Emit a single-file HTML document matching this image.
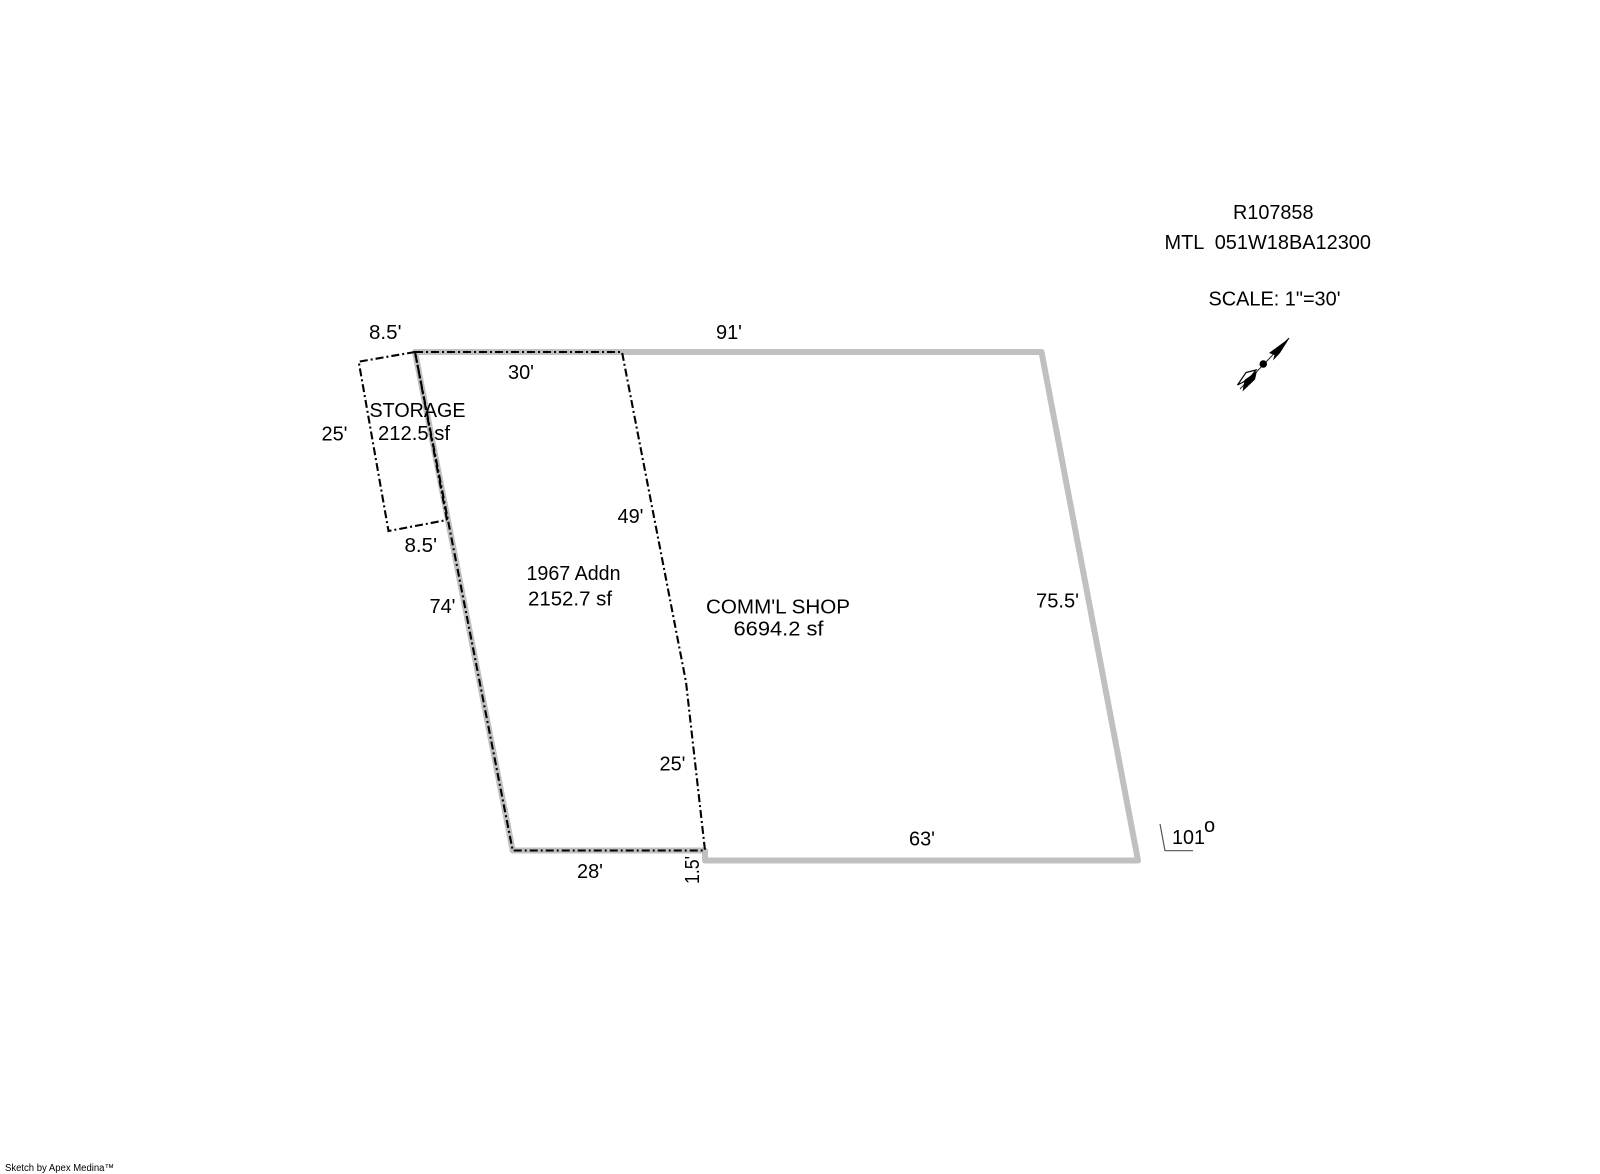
<!DOCTYPE html>
<html><head><meta charset="utf-8"><style>
html,body{margin:0;padding:0;background:#fff;width:1600px;height:1174px;overflow:hidden}
svg{display:block}
text{font-family:"Liberation Sans",Arial,sans-serif;font-size:20px;fill:#000}
</style></head><body>
<svg width="1600" height="1174" viewBox="0 0 1600 1174" xmlns="http://www.w3.org/2000/svg">
<rect width="1600" height="1174" fill="#fff"/>
<polygon points="415,352 1041.5,352 1138,860.5 705,860.5 705,850.5 512.7,850.5" fill="none" stroke="#c0c0c0" stroke-width="6" stroke-linejoin="round"/>
<g fill="none" stroke="#000" stroke-width="2.1" stroke-dasharray="8 3 2 3">
<polygon points="415,352 622,352 686,682 705,850.5 512.7,850.5"/>
<polyline points="415,352 358.7,361.7 388.5,531 447,520"/>
<line x1="447" y1="520" x2="415" y2="352"/>
</g>
<polyline points="1160,824 1165,850.7 1193,850.7" fill="none" stroke="#555" stroke-width="1.2"/>
<line x1="1289" y1="338" x2="1240" y2="389" stroke="#222" stroke-width="1"/>
<polygon points="1289.5,338 1269,353 1274.5,355 1273,360.5 1280,353" fill="#000"/>
<circle cx="1263.3" cy="364" r="3.8" fill="#000"/>
<polygon points="1256,370 1246,372.5 1237.5,385 1249,379" fill="#fff" stroke="#000" stroke-width="1.2"/>
<polygon points="1257,371 1244.5,380 1242.5,391.5 1255,379.5" fill="#000"/>
<text x="1233" y="219" textLength="80.5" lengthAdjust="spacingAndGlyphs">R107858</text>
<text x="1164.5" y="249" xml:space="preserve" textLength="206.5" lengthAdjust="spacingAndGlyphs">MTL  051W18BA12300</text>
<text x="1208.5" y="305.5" textLength="132" lengthAdjust="spacingAndGlyphs">SCALE: 1"=30'</text>
<text x="369" y="339" textLength="32.5" lengthAdjust="spacingAndGlyphs">8.5'</text>
<text x="716" y="339" textLength="26" lengthAdjust="spacingAndGlyphs">91'</text>
<text x="508" y="379" textLength="26" lengthAdjust="spacingAndGlyphs">30'</text>
<text x="369.5" y="417" textLength="96" lengthAdjust="spacingAndGlyphs">STORAGE</text>
<text x="378" y="440" textLength="72" lengthAdjust="spacingAndGlyphs">212.5 sf</text>
<text x="321.5" y="440.5" textLength="26" lengthAdjust="spacingAndGlyphs">25'</text>
<text x="617.5" y="523" textLength="26" lengthAdjust="spacingAndGlyphs">49'</text>
<text x="404.5" y="552" textLength="32.5" lengthAdjust="spacingAndGlyphs">8.5'</text>
<text x="526.5" y="580" textLength="94" lengthAdjust="spacingAndGlyphs">1967 Addn</text>
<text x="528" y="605.5" textLength="84" lengthAdjust="spacingAndGlyphs">2152.7 sf</text>
<text x="429.5" y="613" textLength="26" lengthAdjust="spacingAndGlyphs">74'</text>
<text x="706" y="613.5" textLength="144" lengthAdjust="spacingAndGlyphs">COMM'L SHOP</text>
<text x="733.5" y="635.5" textLength="90" lengthAdjust="spacingAndGlyphs">6694.2 sf</text>
<text x="1036" y="607.5" textLength="43" lengthAdjust="spacingAndGlyphs">75.5'</text>
<text x="659.5" y="770.5" textLength="26" lengthAdjust="spacingAndGlyphs">25'</text>
<text x="909" y="845.5" textLength="26" lengthAdjust="spacingAndGlyphs">63'</text>
<text x="577" y="878" textLength="26" lengthAdjust="spacingAndGlyphs">28'</text>
<text transform="translate(699,884) rotate(-90)" textLength="28" lengthAdjust="spacingAndGlyphs">1.5'</text>
<text x="1172" y="844" textLength="33" lengthAdjust="spacingAndGlyphs">101</text>
<text x="1204" y="832">o</text>
<text x="5" y="1171" style="font-size:10px" textLength="109" lengthAdjust="spacingAndGlyphs">Sketch by Apex Medina™</text>
</svg>
</body></html>
